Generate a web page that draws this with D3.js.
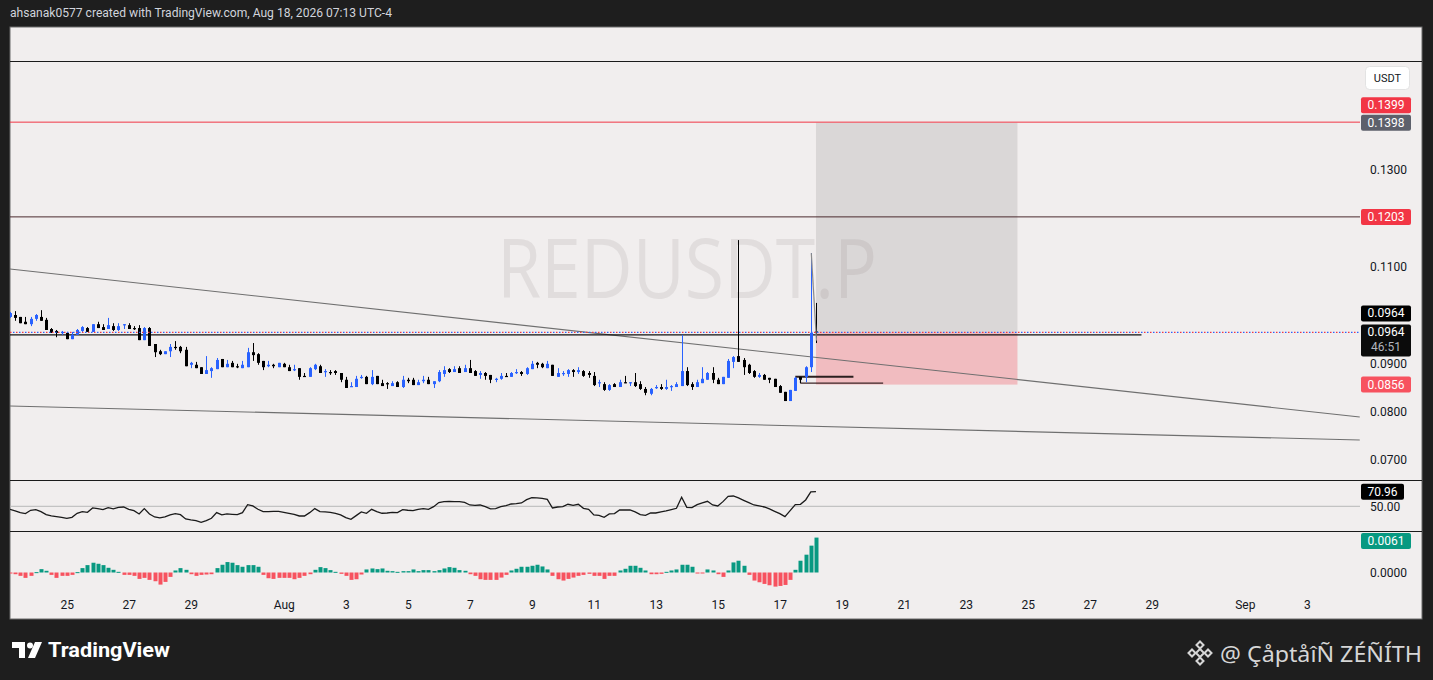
<!DOCTYPE html>
<html><head><meta charset="utf-8">
<script src="https://cdn.jsdelivr.net/npm/d3@7"></script>
<style>
html,body{margin:0;padding:0;background:#1e1e1e;overflow:hidden;}
svg{display:block;}
</style></head><body>
<svg id="c" width="1433" height="680"></svg>
<script>
// ---------------- DATA ----------------
const symbolName = "REDUSDT.P";
const headerText = "ahsanak0577 created with TradingView.com, Aug 18, 2026 07:13 UTC-4";
const candleStart = "2026-07-23T04:00:00Z";   // first visible 4h candle
const candleHours = 4;
const candleOpen = [
.0996,.1000,.0996,.0986,.0981,.0992,.0996,.0990,.0971,.0967,.0963,.0963,.0950,.0959,.0967,.0973,.0965,.0981,.0975,.0971,
.0977,.0969,.0979,.0979,.0973,.0973,.0948,.0973,.0940,.0925,.0919,.0925,.0934,.0934,.0928,.0897,.0897,.0892,.0878,.0884,
.0888,.0909,.0892,.0901,.0894,.0890,.0892,.0923,.0919,.0905,.0894,.0897,.0892,.0899,.0892,.0886,.0890,.0874,.0872,.0888,
.0894,.0882,.0882,.0884,.0880,.0866,.0851,.0851,.0870,.0872,.0857,.0874,.0859,.0859,.0853,.0861,.0851,.0866,.0866,.0855,
.0863,.0866,.0857,.0863,.0878,.0888,.0882,.0890,.0882,.0890,.0884,.0876,.0880,.0876,.0866,.0868,.0874,.0872,.0880,.0882,
.0878,.0888,.0901,.0899,.0890,.0897,.0872,.0878,.0878,.0886,.0882,.0884,.0880,.0874,.0859,.0857,.0845,.0857,.0851,.0861,
.0859,.0861,.0857,.0847,.0837,.0849,.0851,.0847,.0851,.0851,.0853,.0884,.0857,.0851,.0859,.0866,.0880,.0866,.0857,.0870,
.0903,.0915,.0907,.0897,.0884,.0872,.0876,.0870,.0868,.0853,.0841,.0822,.0843,.0872,.0872,.0892,.0966];
const candleHigh = [
.1006,.1008,.0996,.0996,.0996,.1002,.1010,.0994,.0973,.0969,.0967,.0965,.0965,.0971,.0977,.0975,.0981,.0986,.0981,.0994,
.0983,.0983,.0981,.0983,.0977,.0979,.0975,.0975,.0940,.0928,.0925,.0940,.0946,.0936,.0934,.0903,.0903,.0892,.0915,.0892,
.0911,.0909,.0907,.0905,.0899,.0905,.0932,.0942,.0921,.0905,.0905,.0899,.0901,.0901,.0897,.0897,.0890,.0880,.0892,.0899,
.0897,.0888,.0886,.0886,.0880,.0872,.0861,.0874,.0876,.0874,.0886,.0874,.0866,.0861,.0863,.0863,.0874,.0870,.0870,.0866,
.0874,.0872,.0863,.0886,.0894,.0890,.0894,.0894,.0897,.0907,.0886,.0884,.0882,.0876,.0870,.0880,.0880,.0882,.0888,.0884,
.0892,.0905,.0903,.0901,.0905,.0897,.0890,.0884,.0888,.0888,.0892,.0886,.0884,.0882,.0866,.0861,.0857,.0859,.0866,.0874,
.0861,.0880,.0863,.0851,.0849,.0855,.0857,.0866,.0855,.0861,.0959,.0892,.0861,.0866,.0892,.0882,.0892,.0870,.0872,.0909,
.0915,.1155,.0911,.0899,.0886,.0880,.0878,.0870,.0868,.0855,.0841,.0845,.0872,.0872,.0894,.1128,.1025];
const candleLow = [
.0994,.0988,.0983,.0981,.0977,.0988,.0988,.0969,.0963,.0954,.0959,.0950,.0950,.0959,.0963,.0965,.0965,.0973,.0969,.0971,
.0967,.0967,.0971,.0971,.0969,.0948,.0948,.0936,.0913,.0917,.0919,.0913,.0928,.0921,.0894,.0890,.0890,.0878,.0878,.0870,
.0888,.0892,.0892,.0892,.0890,.0890,.0892,.0905,.0897,.0886,.0892,.0890,.0892,.0892,.0884,.0884,.0866,.0872,.0872,.0886,
.0880,.0872,.0876,.0876,.0861,.0849,.0851,.0851,.0868,.0857,.0855,.0857,.0853,.0847,.0853,.0851,.0849,.0859,.0855,.0855,
.0859,.0857,.0849,.0861,.0872,.0880,.0882,.0880,.0882,.0880,.0874,.0868,.0866,.0859,.0861,.0866,.0872,.0872,.0878,.0874,
.0876,.0888,.0890,.0890,.0890,.0874,.0872,.0874,.0872,.0872,.0878,.0872,.0870,.0853,.0851,.0843,.0843,.0851,.0851,.0859,
.0853,.0851,.0845,.0834,.0834,.0847,.0845,.0845,.0843,.0851,.0853,.0853,.0845,.0851,.0859,.0866,.0859,.0857,.0857,.0870,
.0890,.0903,.0876,.0878,.0870,.0870,.0866,.0859,.0851,.0839,.0822,.0822,.0843,.0859,.0861,.0882,.0942];
const candleClose = [
.1004,.0994,.0983,.0981,.0992,.1000,.0988,.0969,.0963,.0963,.0965,.0950,.0959,.0969,.0975,.0965,.0981,.0973,.0969,.0979,
.0969,.0977,.0981,.0971,.0971,.0948,.0973,.0936,.0923,.0919,.0925,.0934,.0932,.0925,.0894,.0901,.0890,.0878,.0886,.0890,
.0907,.0892,.0899,.0892,.0892,.0897,.0923,.0917,.0901,.0892,.0897,.0894,.0901,.0892,.0884,.0888,.0872,.0872,.0890,.0897,
.0880,.0884,.0880,.0880,.0866,.0849,.0853,.0868,.0872,.0857,.0872,.0857,.0853,.0857,.0859,.0851,.0866,.0863,.0855,.0861,
.0866,.0857,.0863,.0882,.0886,.0882,.0888,.0880,.0890,.0880,.0874,.0880,.0874,.0866,.0868,.0874,.0872,.0880,.0882,.0878,
.0890,.0899,.0897,.0892,.0899,.0874,.0880,.0880,.0886,.0882,.0886,.0874,.0876,.0855,.0861,.0845,.0855,.0851,.0861,.0859,
.0861,.0853,.0847,.0839,.0847,.0851,.0847,.0851,.0853,.0857,.0884,.0855,.0851,.0861,.0868,.0880,.0866,.0857,.0872,.0905,
.0913,.0903,.0892,.0880,.0872,.0876,.0866,.0866,.0851,.0839,.0822,.0845,.0870,.0866,.0892,.0963,.0964];
const rsiValues = [
45.7,43.3,40.9,39.5,44.3,45.2,42.3,38.0,36.1,35.2,34.2,32.8,34.2,40.0,42.3,41.4,47.6,46.7,45.2,48.1,
46.2,48.6,49.0,45.7,43.8,39.0,46.7,39.0,34.7,33.3,34.7,37.6,39.5,38.0,31.8,30.4,29.4,27.0,29.4,32.8,
40.9,37.6,39.0,38.5,38.0,40.9,52.4,50.5,45.7,42.3,42.3,42.8,42.8,41.4,40.0,38.5,36.1,36.1,40.9,46.7,
42.3,41.9,41.4,40.0,37.6,33.7,31.3,36.6,41.9,40.0,45.7,42.3,40.0,40.4,41.4,40.9,45.2,44.3,43.8,45.7,
46.7,45.7,49.5,55.3,56.7,57.2,56.7,56.7,55.7,51.9,51.4,51.9,49.5,46.2,46.7,49.5,51.0,53.3,53.8,54.8,
59.6,62.4,62.0,61.5,60.0,47.6,49.0,49.5,52.9,51.4,52.9,47.1,45.7,37.6,37.1,34.2,39.0,39.5,44.7,44.7,
44.7,41.9,38.0,37.1,40.4,40.4,41.9,43.3,45.2,47.1,62.9,48.6,48.1,52.4,54.8,57.2,51.9,50.5,56.7,64.4,
64.8,62.0,58.6,55.3,51.9,50.5,49.0,46.2,42.8,39.5,35.2,43.8,52.4,52.9,59.1,70.6,70.96];
const macdHist = [
-0.0002,-0.00033,-0.00065,-0.00104,-0.00065,0.00007,0.00065,0.00033,-0.00046,-0.00104,-0.00065,-0.00065,-0.00046,0.00007,0.00085,0.00143,0.00189,0.00169,0.00143,0.00091,
0.00052,0.00013,-0.00046,-0.00046,-0.00065,-0.00124,-0.00104,-0.00143,-0.00169,-0.00234,-0.00182,-0.00085,0.00039,0.00085,0.00052,-0.00033,-0.00065,-0.00046,-0.00039,-0.00033,
0.00085,0.0015,0.00202,0.00189,0.00143,0.00111,0.00143,0.00143,0.00111,-0.00046,-0.00111,-0.00124,-0.00104,-0.00104,-0.00104,-0.0013,-0.00104,-0.00065,-0.00033,0.00052,
0.00104,0.00085,0.00046,0.00013,-0.00026,-0.00065,-0.00143,-0.0013,-0.00039,0.00059,0.00078,0.00065,0.00078,0.00033,0.00026,0.00013,0.00026,0.00026,0.00059,0.00026,
0.00046,0.00046,0.00026,0.00046,0.00078,0.00104,0.00091,0.00046,0.00033,-0.00033,-0.00065,-0.0013,-0.00143,-0.00143,-0.00143,-0.00098,-0.00046,0.00039,0.00072,0.00111,
0.00111,0.0013,0.0015,0.00117,0.00059,-0.00065,-0.0013,-0.00156,-0.00124,-0.00098,-0.00065,-0.00046,-0.00026,-0.00065,-0.00065,-0.00124,-0.00065,-0.00065,0.00039,0.00072,
0.0013,0.0013,0.00091,0.00039,-0.00033,-0.00033,-0.00026,0.00013,0.00039,0.00059,0.0015,0.0015,0.00111,-0.0002,-0.00013,0.00059,0.00039,-0.00033,-0.00085,0.00039,
0.00195,0.00228,0.0013,-0.00046,-0.00156,-0.00189,-0.00221,-0.00247,-0.00273,-0.0026,-0.00241,-0.00143,0.00052,0.00228,0.00345,0.0052,0.00676];
const priceTicks = [0.07, 0.08, 0.09, 0.11, 0.13];
const rsiTicks = [50];
const macdTicks = [0];
const dateTicks = ["2026-07-25","2026-07-27","2026-07-29","2026-08-01","2026-08-03","2026-08-05","2026-08-07","2026-08-09",
  "2026-08-11","2026-08-13","2026-08-15","2026-08-17","2026-08-19","2026-08-21","2026-08-23","2026-08-25","2026-08-27",
  "2026-08-29","2026-09-01","2026-09-03"];
// drawings (time, price)
const trendLines = [
  {t1:"2026-07-23T04:00:00Z", p1:0.10952, t2:"2026-09-04T17:00:00Z", p2:0.07889},
  {t1:"2026-07-23T04:00:00Z", p1:0.08117, t2:"2026-09-04T17:00:00Z", p2:0.07413}
];
const supportLevel = {price:0.0959, t1:"2026-07-20T00:00:00Z", t2:"2026-08-28T16:00:00Z"};
const levelLines = [0.1399, 0.1203];
const longPosition = {t1:"2026-08-18T04:00:00Z", t2:"2026-08-24T16:00:00Z", entry:0.0964, target:0.1398, stop:0.0856};
const lastPrice = 0.0964;
const countdown = "46:51";
const lastRsi = 70.96;
const lastMacdLabel = 0.0061;

// ---------------- LAYOUT ----------------
const svg = d3.select("#c");
const PX0 = 10, PX1 = 1422, PY0 = 27, PY1 = 619, AX = 1360;
const font = "Roboto, 'Liberation Sans', Arial, sans-serif";

const t0 = d3.isoParse(candleStart).getTime();
const times = candleOpen.map((_, i) => new Date(t0 + i * candleHours * 3600e3));

const x = d3.scaleUtc()
  .domain([new Date(Date.UTC(2026,7,1)), new Date(Date.UTC(2026,7,18))])
  .range([283.8, 283.8 + 17 * 31]);
const y = d3.scaleLinear().domain([0.07, 0.13]).range([460, 170]);
const yR = d3.scaleLinear().domain([50, 70.96]).range([506.3, 491.7]);
const yM = d3.scaleLinear().domain([0, 0.0061]).range([572.5, 541]);

// header
svg.append("text").attr("x", 10).attr("y", 14).attr("dominant-baseline","middle")
  .attr("fill","#d1d4dc").attr("font-family", font).attr("font-size", 12.5)
  .attr("textLength", 382).attr("lengthAdjust","spacingAndGlyphs")
  .text(headerText);

// panel
svg.append("rect").attr("x",PX0).attr("y",PY0).attr("width",PX1-PX0).attr("height",PY1-PY0)
  .attr("fill","#f1eeee").attr("stroke","#6b6b6b").attr("stroke-width",1);

const defs = svg.append("defs");
function clip(id, x0, y0, x1, y1){
  defs.append("clipPath").attr("id", id).append("rect").attr("x",x0).attr("y",y0).attr("width",x1-x0).attr("height",y1-y0);
}
clip("cp", PX0, PY0, AX, 480);
clip("cr", PX0, 481, AX, 531);
clip("cm", PX0, 532, AX, 592);

// pane separators
[61.5, 480.5, 531.5].forEach(v => svg.append("line").attr("x1",PX0).attr("x2",PX1).attr("y1",v).attr("y2",v)
  .attr("stroke","#1a1a1a").attr("stroke-width",1));

const gp = svg.append("g").attr("clip-path","url(#cp)");

// watermark
gp.append("text").attr("x", 497).attr("y", 298).attr("font-family","'Open Sans', 'Noto Sans', sans-serif")
  .attr("font-size", 82).attr("fill","#e1dddd").attr("textLength", 380).attr("lengthAdjust","spacingAndGlyphs")
  .text(symbolName);

// long position tool
const lp = longPosition;
const lx1 = x(d3.isoParse(lp.t1)), lx2 = x(d3.isoParse(lp.t2));
gp.append("rect").attr("x", lx1).attr("width", lx2-lx1).attr("y", y(lp.target)).attr("height", y(lp.entry)-y(lp.target))
  .attr("fill","rgba(128,126,124,0.2)");
gp.append("rect").attr("x", lx1).attr("width", lx2-lx1).attr("y", y(lp.entry)).attr("height", y(lp.stop)-y(lp.entry))
  .attr("fill","rgba(242,54,69,0.27)");

// level lines
gp.append("line").attr("x1",PX0).attr("x2",AX).attr("y1",y(levelLines[0])).attr("y2",y(levelLines[0]))
  .attr("stroke","#f23645").attr("stroke-width",1);
gp.append("line").attr("x1",PX0).attr("x2",AX).attr("y1",y(levelLines[1])).attr("y2",y(levelLines[1]))
  .attr("stroke","#4a2a2d").attr("stroke-width",1);

// trend lines
trendLines.forEach(l => {
  gp.append("line").attr("x1", x(d3.isoParse(l.t1))).attr("y1", y(l.p1))
    .attr("x2", x(d3.isoParse(l.t2))).attr("y2", y(l.p2))
    .attr("stroke","#6f6f6f").attr("stroke-width",1.1);
});

// support horizontal
gp.append("line").attr("x1", x(d3.isoParse(supportLevel.t1))).attr("x2", x(d3.isoParse(supportLevel.t2)))
  .attr("y1", y(supportLevel.price)).attr("y2", y(supportLevel.price))
  .attr("stroke","#111").attr("stroke-width",1.2);

// small bracket near breakout
const bA = {t1:"2026-08-17T12:00:00Z", t2:"2026-08-19T09:00:00Z", p:0.0872};
const bB = {t1:"2026-08-17T16:00:00Z", t2:"2026-08-20T08:00:00Z", p:0.0859};
gp.append("line").attr("x1",x(d3.isoParse(bA.t1))).attr("x2",x(d3.isoParse(bA.t2))).attr("y1",y(bA.p)).attr("y2",y(bA.p))
  .attr("stroke","#2b1f1f").attr("stroke-width",2);
gp.append("line").attr("x1",x(d3.isoParse(bB.t1))).attr("x2",x(d3.isoParse(bB.t2))).attr("y1",y(bB.p)).attr("y2",y(bB.p))
  .attr("stroke","#3a2426").attr("stroke-width",1.2);
gp.append("line").attr("x1",x(d3.isoParse(bB.t1))).attr("x2",x(d3.isoParse(bB.t1))).attr("y1",y(bA.p)).attr("y2",y(bB.p))
  .attr("stroke","#3a2426").attr("stroke-width",1.2);

// candles
const gc = gp.append("g");
times.forEach((t, i) => {
  const o = candleOpen[i], h = candleHigh[i], l = candleLow[i], c = candleClose[i];
  const up = c >= o;
  const col = up ? "#2962ff" : "#000000";
  const cx = Math.round(x(t));
  gc.append("line").attr("x1", cx+0.5).attr("x2", cx+0.5).attr("y1", y(h)).attr("y2", y(l))
    .attr("stroke", col).attr("stroke-width", 1);
  const top = y(Math.max(o,c)), bot = y(Math.min(o,c));
  gc.append("rect").attr("x", cx-1).attr("width", 3).attr("y", top).attr("height", Math.max(1.2, bot-top))
    .attr("fill", col);
});
// spike path drawing
gp.append("line").attr("x1", x(d3.isoParse("2026-08-18T00:00:00Z"))+0.5).attr("y1", y(0.1128))
  .attr("x2", x(d3.isoParse("2026-08-18T04:00:00Z"))+0.5).attr("y2", y(0.0947))
  .attr("stroke","#8a8a8a").attr("stroke-width",1.2);

// last price dotted line
const lpY = y(lastPrice);
gp.append("line").attr("x1",PX0).attr("x2",AX).attr("y1",lpY).attr("y2",lpY)
  .attr("stroke","#f23645").attr("stroke-width",1.3).attr("stroke-dasharray","1.5,4.5");
gp.append("line").attr("x1",PX0).attr("x2",AX).attr("y1",lpY).attr("y2",lpY)
  .attr("stroke","#2962ff").attr("stroke-width",1.3).attr("stroke-dasharray","1.5,4.5").attr("stroke-dashoffset",-3);

// RSI pane
const gr = svg.append("g").attr("clip-path","url(#cr)");
gr.append("line").attr("x1",PX0).attr("x2",AX).attr("y1",yR(50)).attr("y2",yR(50)).attr("stroke","#b8b8b8").attr("stroke-width",1);
gr.append("path").datum(rsiValues).attr("fill","none").attr("stroke","#1a1a1a").attr("stroke-width",1.3)
  .attr("d", d3.line().x((d,i)=>x(times[i])).y(d=>yR(d)));

// MACD pane
const gm = svg.append("g").attr("clip-path","url(#cm)");
macdHist.forEach((v, i) => {
  const cx = Math.round(x(times[i]));
  const y0 = yM(0), y1 = yM(v);
  gm.append("rect").attr("x", cx-1.5).attr("width", 4)
    .attr("y", Math.min(y0,y1)).attr("height", Math.max(1, Math.abs(y1-y0)))
    .attr("fill", v >= 0 ? "#089981" : "#f7525f");
});

// axes
function styleAxis(g){
  g.select(".domain").remove();
  g.selectAll("text").attr("fill","#131722").attr("font-family",font).attr("font-size",12);
}
svg.append("g").attr("transform",`translate(${AX},0)`)
  .call(d3.axisRight(y).tickValues(priceTicks).tickFormat(d3.format(".4f")).tickSize(0).tickPadding(10))
  .call(styleAxis);
svg.append("g").attr("transform",`translate(${AX},0)`)
  .call(d3.axisRight(yR).tickValues(rsiTicks).tickFormat(d3.format(".2f")).tickSize(0).tickPadding(10))
  .call(styleAxis);
svg.append("g").attr("transform",`translate(${AX},0)`)
  .call(d3.axisRight(yM).tickValues(macdTicks).tickFormat(d3.format(".4f")).tickSize(0).tickPadding(10))
  .call(styleAxis);
svg.append("g").attr("transform","translate(0,600)")
  .call(d3.axisBottom(x).tickValues(dateTicks.map(d=>d3.isoParse(d+"T00:00:00Z")))
    .tickFormat(d => d.getUTCDate()===1 ? d3.utcFormat("%b")(d) : String(d.getUTCDate())).tickSize(0).tickPadding(0))
  .call(styleAxis);

// axis labels (boxes)
function tag(cy, lines, fill, opts={}){
  const g = svg.append("g");
  const h = opts.h || 16;
  const rect = g.append("rect").attr("x", 1361).attr("y", cy - 8).attr("height", h).attr("rx", 2).attr("fill", fill);
  let w = 0;
  lines.forEach((ln, k) => {
    const t = g.append("text").attr("x", 1361).attr("y", cy + k*15).attr("dominant-baseline","central")
      .attr("font-family", font).attr("font-size", 12).attr("fill", ln.color || "#ffffff").text(ln.text);
    w = Math.max(w, t.node().getComputedTextLength());
  });
  const bw = Math.round(w + 13);
  rect.attr("width", bw);
  g.selectAll("text").attr("x", 1361 + bw/2).attr("text-anchor","middle");
}
const fmt4 = d3.format(".4f");
tag(y(0.1399) - 17, [{text: fmt4(0.1399)}], "#f23645");
tag(y(lp.target), [{text: fmt4(lp.target)}], "#5d606b");
tag(y(levelLines[1]), [{text: fmt4(levelLines[1])}], "#f23645");
tag(y(lp.entry) - 19, [{text: fmt4(lp.entry)}], "#000000");
tag(y(lastPrice), [{text: fmt4(lastPrice)}, {text: countdown, color:"#b2b5be"}], "#0b0b0b", {h:32});
tag(y(lp.stop), [{text: fmt4(lp.stop)}], "#f7525f");
tag(yR(lastRsi), [{text: d3.format(".2f")(lastRsi)}], "#000000");
tag(yM(lastMacdLabel), [{text: fmt4(lastMacdLabel)}], "#089981");

// USDT box
svg.append("rect").attr("x",1365.5).attr("y",66.5).attr("width",44).attr("height",23).attr("rx",4)
  .attr("fill","#ffffff").attr("stroke","#e3e3e3");
svg.append("text").attr("x",1387.5).attr("y",78).attr("text-anchor","middle").attr("dominant-baseline","central")
  .attr("font-family",font).attr("font-size",11).attr("fill","#131722").text("USDT");

// footer: TradingView logo
const lg = svg.append("g").attr("fill","#ffffff");
lg.append("path").attr("d","M12,642 h13 v16 h-6 v-10 h-7 z");
lg.append("circle").attr("cx",30).attr("cy",645.5).attr("r",3);
lg.append("path").attr("d","M35,642 h7 l-7,16 h-7 z");
svg.append("text").attr("x",48).attr("y",657).attr("font-family",font).attr("font-weight",700)
  .attr("font-size",20).attr("fill","#ffffff").attr("textLength",122).attr("lengthAdjust","spacingAndGlyphs").text("TradingView");

// footer: signature
const bg = svg.append("g").attr("fill","none").attr("stroke","#d6d6d6").attr("stroke-width",2);
const bcx = 1200, bcy = 653;
[[0,0,4],[0,-8,3.5],[0,8,3.5],[-8,0,3.5],[8,0,3.5]].forEach(([dx,dy,s]) => {
  bg.append("path").attr("d",`M${bcx+dx},${bcy+dy-s} l${s},${s} l${-s},${s} l${-s},${-s} z`);
});
svg.append("text").attr("x",1220).attr("y",662).attr("font-family","'Noto Sans', 'DejaVu Sans', sans-serif")
  .attr("font-size",22).attr("fill","#d6d6d6").attr("textLength",202).attr("lengthAdjust","spacingAndGlyphs")
  .text("@ ÇåptåîÑ ZÉÑÍTH");
</script>
</body></html>
